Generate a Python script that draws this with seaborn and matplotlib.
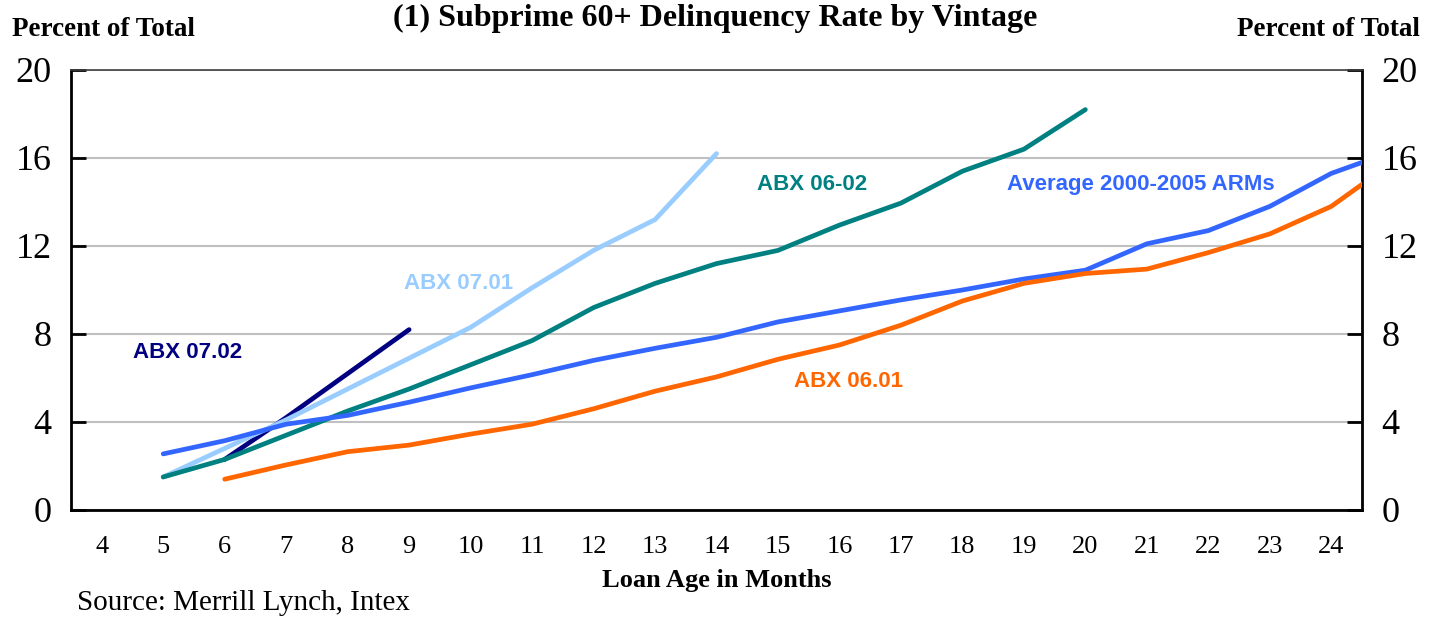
import matplotlib
matplotlib.use("Agg")
import matplotlib.pyplot as plt
import seaborn as sns
import pandas as pd
import numpy as np

# loan age in months (25 is only partly visible, clipped at the right edge)
months = list(range(4, 26))

abx_0702 = [None, None, 2.3, 4.2, 6.2, 8.2] + [None] * 16
abx_0701 = [None, 1.5, 2.8, 4.1, 5.5, 6.9, 8.3, 10.1, 11.8, 13.2, 16.2] + [None] * 11
abx_0602 = [None, 1.5, 2.3, 3.4, 4.5, 5.5, 6.6, 7.7, 9.2, 10.3, 11.2, 11.8,
            12.95, 13.95, 15.4, 16.4, 18.2] + [None] * 5
avg_arms = [None, 2.55, 3.15, 3.9, 4.3, 4.9, 5.55, 6.15, 6.8, 7.35, 7.85, 8.55,
            9.05, 9.55, 10.0, 10.5, 10.9, 12.1, 12.7, 13.8, 15.3, 16.3]
abx_0601 = [None, None, 1.4, 2.05, 2.65, 2.95, 3.45, 3.9, 4.6, 5.4, 6.05, 6.85,
            7.5, 8.4, 9.5, 10.3, 10.75, 10.95, 11.7, 12.55, 13.8, 15.8]

series_names = ["ABX 07.02", "ABX 07.01", "ABX 06-02",
                "Average 2000-2005 ARMs", "ABX 06.01"]
series_values = [abx_0702, abx_0701, abx_0602, avg_arms, abx_0601]
colors = ["#000080", "#99CCFF", "#008080", "#3366FF", "#FF6600"]

y_ticks = [0, 4, 8, 12, 16, 20]

rows = []
for name, vals in zip(series_names, series_values):
    for m, v in zip(months, vals):
        if v is not None:
            rows.append({"month": m, "rate": v, "series": name})
df = pd.DataFrame(rows)

sns.set_style("white")
serif = ["Liberation Serif", "DejaVu Serif"]
sans = ["Liberation Sans", "DejaVu Sans"]
plt.rcParams["font.family"] = serif
plt.rcParams["text.color"] = "black"
plt.rcParams["axes.labelcolor"] = "black"
plt.rcParams["xtick.color"] = "black"
plt.rcParams["ytick.color"] = "black"

fig = plt.figure(figsize=(14.31, 6.19), dpi=100)
ax = fig.add_axes([71 / 1431, 1 - 510 / 619, (1362 - 71) / 1431, 440 / 619])

sns.lineplot(data=df, x="month", y="rate", hue="series", hue_order=series_names,
             palette=colors, linewidth=3.4, legend=False, ax=ax, zorder=3)

ax.set_xlim(3.5, 24.5)
ax.set_ylim(0, 20)
ax.set_yticks(y_ticks)
ax.set_yticklabels([str(t) for t in y_ticks])
ax.yaxis.grid(True, color="#C0C0C0", linewidth=1.5)
ax.set_axisbelow(True)

# boundary ticks without labels, labels at category centres
ax.set_xticks(np.arange(3.5, 25, 1.0))
ax.set_xticklabels([])
ax.set_xticks(range(4, 25), minor=True)
ax.set_xticklabels([str(m) for m in range(4, 25)], minor=True, fontsize=19)
ax.tick_params(axis="x", which="major", direction="out", length=9, width=2, color="black")
ax.tick_params(axis="x", which="minor", length=0, pad=19)
ax.tick_params(axis="y", direction="in", length=11, width=2, color="black",
               labelsize=26, pad=14, left=True, right=True,
               labelleft=True, labelright=True)

for side in ["left", "right", "bottom"]:
    ax.spines[side].set_color("black")
    ax.spines[side].set_linewidth(2)
ax.spines["top"].set_color("#404040")
ax.spines["top"].set_linewidth(1.2)

ax.set_xlabel("Loan Age in Months", fontsize=19, fontweight="bold", labelpad=8)
ax.set_ylabel("")

fig.text(0.5, 1 - 18 / 619, "(1) Subprime 60+ Delinquency Rate by Vintage",
         ha="center", va="center", fontsize=23, fontweight="bold")
fig.text(12 / 1431, 1 - 29 / 619, "Percent of Total", ha="left", va="center",
         fontsize=19.5, fontweight="bold")
fig.text(1420 / 1431, 1 - 29 / 619, "Percent of Total", ha="right", va="center",
         fontsize=19.5, fontweight="bold")
fig.text(77 / 1431, 1 - 603 / 619, "Source: Merrill Lynch, Intex", ha="left",
         va="center", fontsize=21)

labels = [("ABX 07.02", 5.39, 7.18, "#000080"),
          ("ABX 07.01", 9.81, 10.3, "#99CCFF"),
          ("ABX 06-02", 15.55, 14.8, "#008080"),
          ("Average 2000-2005 ARMs", 20.9, 14.8, "#3366FF"),
          ("ABX 06.01", 16.15, 5.86, "#FF6600")]
for text, x, y, c in labels:
    ax.text(x, y, text, color=c, fontsize=16, fontweight="bold",
            family=sans, ha="center", va="center")

fig.savefig("out.png", dpi=100)
